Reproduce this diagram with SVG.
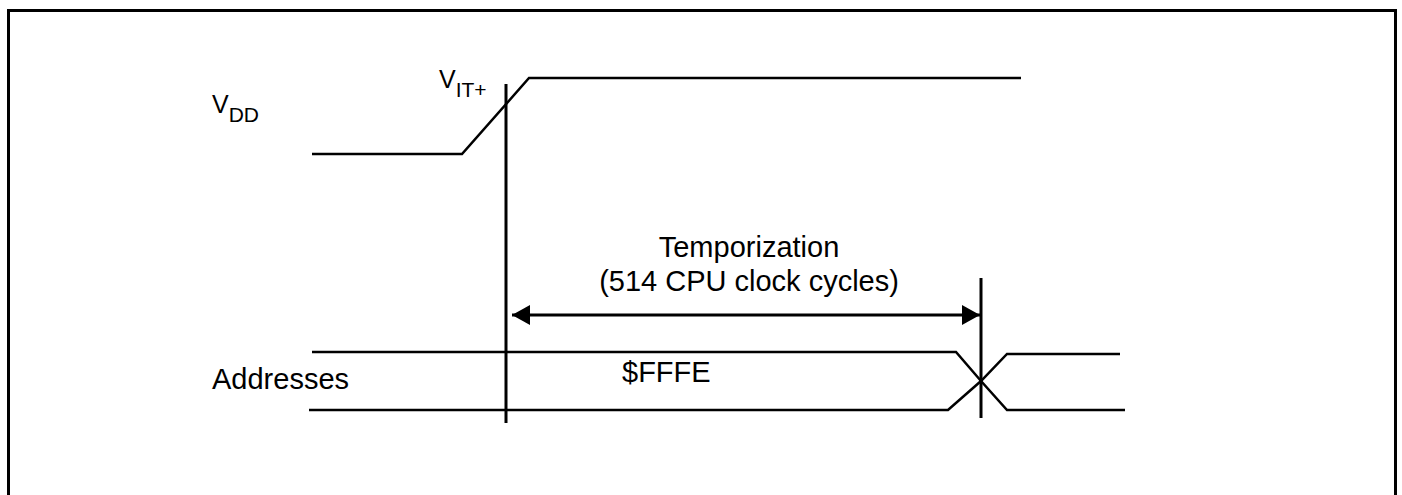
<svg xmlns="http://www.w3.org/2000/svg" width="1402" height="495" viewBox="0 0 1402 495">
<style>
.t{font-family:"Liberation Sans",Arial,sans-serif;font-size:29px;fill:#000}
.v{font-size:25px}
.s{font-size:21px}
.w{fill:none;stroke:#000;stroke-width:2.5}
.k{fill:none;stroke:#000;stroke-width:3}
.b{fill:none;stroke:#000;stroke-width:3}
</style>
<defs>
<marker id="ah" viewBox="0 0 18 20" refX="18" refY="10" markerWidth="18" markerHeight="20" markerUnits="userSpaceOnUse" orient="auto-start-reverse">
<path d="M0,0 L18,10 L0,20 Z" fill="#000"/>
</marker>
</defs>
<rect x="8.5" y="10.5" width="1387" height="520" class="b"/>
<g id="vdd">
<text class="t v" x="212" y="113">V<tspan class="s" dy="9">DD</tspan></text>
<polyline class="w" points="312,154 462,154 529,78 1021,78"/>
</g>
<g id="vit">
<text class="t v" x="439" y="88">V<tspan class="s" dy="9">IT+</tspan></text>
</g>
<g id="addr">
<text class="t" x="212" y="389">Addresses</text>
<text class="t" x="622" y="382">$FFFE</text>
<polyline class="w" points="312,352 956,352 981,381 1007,410 1125,410"/>
<polyline class="w" points="309,410 948,410 981,381 1007,354 1120,354"/>
</g>
<g id="temp">
<text class="t" x="749" y="257" text-anchor="middle">Temporization</text>
<text class="t" x="749" y="291" text-anchor="middle">(514 CPU clock cycles)</text>
</g>
<g id="connectors">
<line class="k" x1="506" y1="84" x2="506" y2="423"/>
<line class="k" x1="981" y1="278" x2="981" y2="418"/>
<line class="k" x1="512" y1="315" x2="980" y2="315" marker-start="url(#ah)" marker-end="url(#ah)"/>
</g>
</svg>
